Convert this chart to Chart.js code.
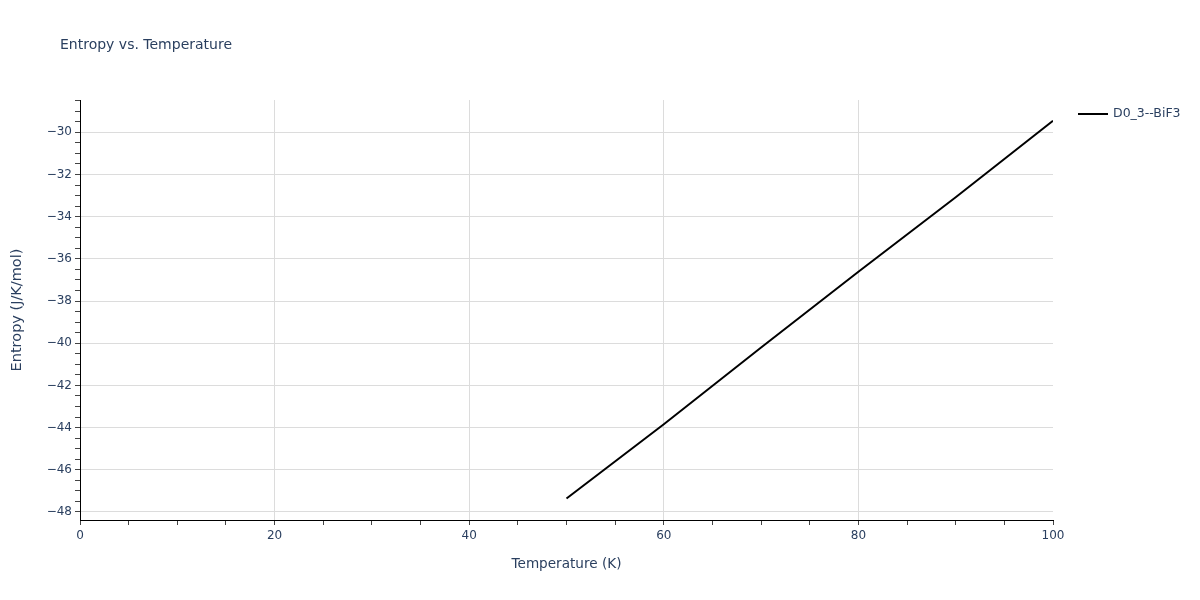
<!DOCTYPE html>
<html>
<head>
<meta charset="utf-8">
<script src="https://cdn.jsdelivr.net/npm/chart.js@4"></script>
<style>
html,body{margin:0;padding:0;background:#fff;}
#wrap{width:1200px;height:600px;}
</style>
</head>
<body>
<div id="wrap"><canvas id="c" width="1200" height="600"></canvas></div>
<script>
const chartTitle = 'Entropy vs. Temperature';
const seriesName = 'D0_3--BiF3';
const temperature = [50, 60, 70, 80, 90, 100];
const entropy = [-47.36, -43.84, -40.2, -36.61, -33.08, -29.45];
const xMajorTicks = [0, 20, 40, 60, 80, 100];
const yMajorTicks = [-48, -46, -44, -42, -40, -38, -36, -34, -32, -30];
const xRange = [0, 100];
const yRange = [-48.38, -28.47];

const FONT = '"DejaVu Sans", Verdana, sans-serif';
const TXT = '#2a3f5f';
const GRID = '#dcdcdc';

function isMajor(v, list){ return list.some(m => Math.abs(m - v) < 1e-6); }
function fmt(v){ return v < 0 ? '\u2212' + Math.abs(v) : String(v); }

const overlay = {
  id: 'overlay',
  afterDraw(chart){
    const ctx = chart.ctx;
    ctx.save();
    ctx.fillStyle = TXT;
    ctx.font = '14px ' + FONT;
    ctx.textBaseline = 'middle';
    ctx.textAlign = 'left';
    ctx.fillText(chartTitle, 60, 45);
    const ds = chart.data.datasets[0];
    ctx.strokeStyle = ds.borderColor;
    ctx.lineWidth = 2;
    ctx.beginPath();
    ctx.moveTo(1078, 114);
    ctx.lineTo(1108, 114);
    ctx.stroke();
    ctx.font = '12.5px ' + FONT;
    ctx.fillText(ds.label, 1113, 114);
    ctx.restore();
  }
};

new Chart(document.getElementById('c'), {
  type: 'line',
  data: {
    datasets: [{
      label: seriesName,
      data: temperature.map((t, i) => ({x: t, y: entropy[i]})),
      borderColor: '#000000',
      borderWidth: 2,
      pointRadius: 0,
      fill: false,
      tension: 0
    }]
  },
  options: {
    responsive: false,
    animation: false,
    layout: {padding: {top: 100, right: 147, left: 0, bottom: 0}},
    plugins: {legend: {display: false}, title: {display: false}, tooltip: {enabled: false}},
    scales: {
      x: {
        type: 'linear',
        min: xRange[0], max: xRange[1],
        afterFit(s){ s.height = 80; },
        afterBuildTicks(s){
          const t = [];
          for (let v = xRange[0]; v <= xRange[1] + 1e-9; v += 5) t.push({value: v});
          s.ticks = t;
        },
        ticks: {
          autoSkip: false, maxRotation: 0, padding: 4,
          color: TXT, font: {family: FONT, size: 12},
          callback: (v) => isMajor(v, xMajorTicks) ? fmt(v) : ''
        },
        grid: {
          drawTicks: true, tickLength: 5, tickColor: '#444',
          color: (c) => (c.tick && isMajor(c.tick.value, xMajorTicks) && c.tick.value !== xRange[0] && c.tick.value !== xRange[1]) ? GRID : 'rgba(0,0,0,0)',
          lineWidth: 1
        },
        border: {display: true, color: '#000', width: 1},
        title: {display: true, text: 'Temperature (K)', color: TXT, font: {family: FONT, size: 13.6}, padding: {top: 0, bottom: 27}}
      },
      y: {
        type: 'linear',
        min: yRange[0], max: yRange[1],
        afterFit(s){ s.width = 80; },
        afterBuildTicks(s){
          const t = [];
          for (let v = -48; v <= yRange[1] + 1e-9; v += 0.5) t.push({value: v});
          s.ticks = t;
        },
        ticks: {
          autoSkip: false, padding: 3,
          color: TXT, font: {family: FONT, size: 12},
          callback: (v) => isMajor(v, yMajorTicks) ? fmt(v) : ''
        },
        grid: {
          drawTicks: true, tickLength: 5, tickColor: '#444',
          color: (c) => (c.tick && isMajor(c.tick.value, yMajorTicks)) ? GRID : 'rgba(0,0,0,0)',
          lineWidth: 1
        },
        border: {display: true, color: '#000', width: 1},
        title: {display: true, text: 'Entropy (J/K/mol)', color: TXT, font: {family: FONT, size: 14.5}, padding: {top: 9, bottom: 0}}
      }
    }
  },
  plugins: [overlay]
});
</script>
</body>
</html>
